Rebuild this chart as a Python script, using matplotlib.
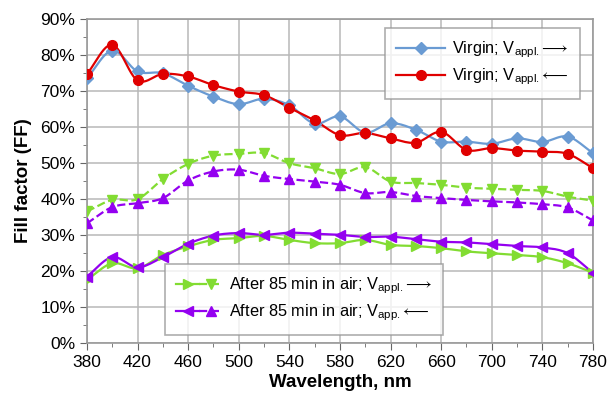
import numpy as np
import matplotlib
matplotlib.use("Agg")
import matplotlib.pyplot as plt
from matplotlib.legend_handler import HandlerTuple
from matplotlib.lines import Line2D

plt.rcParams['font.family'] = ['Liberation Sans', 'DejaVu Sans']
plt.rcParams['mathtext.fontset'] = 'custom'
plt.rcParams['mathtext.rm'] = 'Liberation Sans'
plt.rcParams['mathtext.it'] = 'Liberation Sans:italic'

wavelength = [380, 400, 420, 440, 460, 480, 500, 520, 540, 560, 580,
              600, 620, 640, 660, 680, 700, 720, 740, 760, 780]
virgin_fwd = [73.5, 81.2, 75.4, 74.9, 71.4, 68.4, 66.3, 67.8, 66.0, 60.9, 62.9,
              58.4, 61.0, 59.2, 55.9, 55.9, 55.3, 56.8, 55.8, 57.3, 52.7]
virgin_rev = [74.7, 82.8, 72.9, 74.7, 74.0, 71.6, 69.8, 68.8, 65.3, 61.8, 57.7,
              58.3, 56.8, 55.6, 58.6, 53.6, 54.1, 53.4, 53.1, 52.5, 48.5]
air_fwd_dash = [36.5, 39.7, 39.9, 45.5, 49.7, 52.0, 52.5, 52.7, 49.9, 48.5, 46.9,
                48.8, 44.8, 44.4, 43.9, 43.1, 42.8, 42.5, 42.2, 40.6, 39.5]
air_rev_dash = [33.2, 37.7, 38.8, 40.2, 45.1, 47.6, 48.1, 46.4, 45.5, 44.8, 43.9,
                41.6, 41.9, 40.8, 40.2, 39.7, 39.3, 39.0, 38.5, 37.6, 34.0]
air_fwd_solid = [17.5, 22.1, 20.7, 24.4, 26.8, 28.6, 29.1, 29.7, 28.6, 27.7, 27.7,
                 28.6, 27.2, 26.9, 26.3, 25.4, 24.9, 24.4, 23.8, 22.1, 19.5]
air_rev_solid = [18.4, 23.8, 21.0, 23.8, 27.5, 29.8, 30.5, 30.0, 30.6, 30.3, 30.0,
                 29.4, 29.5, 28.8, 28.1, 27.9, 27.4, 26.9, 26.5, 24.9, 19.4]

label_virgin_fwd = "Virgin; V$_{\\mathrm{appl.}}\\!\\longrightarrow$"
label_virgin_rev = "Virgin; V$_{\\mathrm{appl.}}\\!\\longleftarrow$"
label_air_fwd = "After 85 min in air; V$_{\\mathrm{appl.}}\\!\\longrightarrow$"
label_air_rev = "After 85 min in air; V$_{\\mathrm{app.}}\\!\\longleftarrow$"

BLUE = '#6a9bd3'
RED = '#e00000'
GREEN = '#82dc32'
PURPLE = '#9400f0'


def smooth(x, y, n=12):
    # Catmull-Rom rendering of the curve through the data points
    x = np.asarray(x, float)
    y = np.asarray(y, float)
    px = np.concatenate([[2 * x[0] - x[1]], x, [2 * x[-1] - x[-2]]])
    py = np.concatenate([[2 * y[0] - y[1]], y, [2 * y[-1] - y[-2]]])
    xs, ys = [], []
    t = np.linspace(0, 1, n, endpoint=False)
    for i in range(1, len(px) - 2):
        for P, out in (((px[i - 1], px[i], px[i + 1], px[i + 2]), xs),
                       ((py[i - 1], py[i], py[i + 1], py[i + 2]), ys)):
            a0, a1, a2, a3 = P
            out.extend(0.5 * ((2 * a1) + (-a0 + a2) * t +
                              (2 * a0 - 5 * a1 + 4 * a2 - a3) * t ** 2 +
                              (-a0 + 3 * a1 - 3 * a2 + a3) * t ** 3))
    xs.append(x[-1])
    ys.append(y[-1])
    return np.array(xs), np.array(ys)


fig = plt.figure(figsize=(6.12, 4.01), dpi=100)
ax = fig.add_axes([0.142, 0.145, 0.827, 0.808])

series = [
    (air_fwd_dash, GREEN, 'v', '--', 7),
    (air_rev_dash, PURPLE, '^', '--', 7),
    (air_fwd_solid, GREEN, '>', '-', 7),
    (air_rev_solid, PURPLE, '<', '-', 7),
    (virgin_fwd, BLUE, 'D', '-', 6),
    (virgin_rev, RED, 'o', '-', 7),
]
for ys, c, m, ls, ms in series:
    sx, sy = smooth(wavelength, ys)
    ax.plot(sx, sy, color=c, ls=ls, lw=1.6, zorder=3)
    ax.plot(wavelength, ys, ls='none', marker=m, color=c, ms=ms, zorder=4)

ax.set_xlim(380, 780)
ax.set_ylim(0, 90)
ax.set_xticks(np.arange(380, 781, 40))
ax.set_xticks(np.arange(380, 781, 20), minor=True)
ax.set_yticks(np.arange(0, 91, 10))
ax.set_yticks(np.arange(0, 91, 5), minor=True)
ax.set_yticklabels([f"{v}%" for v in range(0, 91, 10)])
ax.grid(True, which='major', color='#b8b8b8', lw=1.1)
ax.set_axisbelow(True)
for s in ax.spines.values():
    s.set_color('#999999')
    s.set_linewidth(1.2)
ax.tick_params(which='both', direction='out', color='#666666', labelsize=12.5)
ax.tick_params(which='major', length=5)
ax.tick_params(which='minor', length=3)
ax.set_xlabel("Wavelength, nm", fontsize=13.5, fontweight='bold', labelpad=3)
ax.set_ylabel("Fill factor (FF)", fontsize=13.5, fontweight='bold', labelpad=6)

h1 = Line2D([], [], color=BLUE, marker='D', ms=6, lw=1.6)
h2 = Line2D([], [], color=RED, marker='o', ms=7, lw=1.6)
leg1 = ax.legend([h1, h2], [label_virgin_fwd, label_virgin_rev],
                 loc='upper right', bbox_to_anchor=(0.974, 0.972), borderaxespad=0,
                 fontsize=11.8, frameon=True, fancybox=False, edgecolor='#999999',
                 handlelength=3.0, borderpad=0.7, labelspacing=0.4, handletextpad=0.4)
leg1.get_frame().set_linewidth(1.2)
ax.add_artist(leg1)

g1 = Line2D([], [], color=GREEN, marker='>', ms=7, lw=1.6, ls='-')
g2 = Line2D([], [], color=GREEN, marker='v', ms=7, lw=1.6, ls='--')
p1 = Line2D([], [], color=PURPLE, marker='<', ms=7, lw=1.6, ls='-')
p2 = Line2D([], [], color=PURPLE, marker='^', ms=7, lw=1.6, ls='--')
leg2 = ax.legend([(g1, g2), (p1, p2)], [label_air_fwd, label_air_rev],
                 handler_map={tuple: HandlerTuple(ndivide=None, pad=0.0)},
                 loc='lower left', bbox_to_anchor=(0.154, 0.025), borderaxespad=0,
                 fontsize=11.8, frameon=True, fancybox=False, edgecolor='#999999',
                 handlelength=2.8, borderpad=0.7, labelspacing=0.4, handletextpad=0.4)
leg2.get_frame().set_linewidth(1.2)

fig.savefig("out.png", dpi=100)
